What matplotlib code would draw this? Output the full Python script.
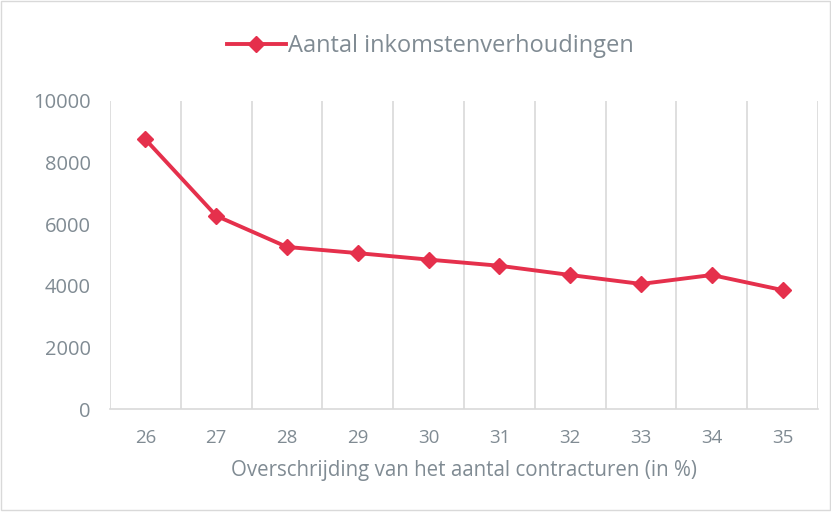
import matplotlib
matplotlib.use("Agg")
import matplotlib.pyplot as plt
from matplotlib.patches import Rectangle

categories = ["26", "27", "28", "29", "30", "31", "32", "33", "34", "35"]
values = [8750, 6270, 5260, 5060, 4850, 4650, 4350, 4060, 4350, 3860]
series_name = "Aantal inkomstenverhoudingen"
x_label = "Overschrijding van het aantal contracturen (in %)"
y_ticks = [0, 2000, 4000, 6000, 8000, 10000]

plt.rcParams['font.family'] = ['Open Sans', 'DejaVu Sans']
text_color = "#808b93"
line_color = "#e5304c"
grid_color = "#d9d9d9"

fig = plt.figure(figsize=(8.31, 5.12), dpi=100)
ax = fig.add_axes([0.1324, 0.201, 0.852, 0.602])

x = list(range(len(categories)))
ax.plot(x, values, color=line_color, lw=2.8, marker="D", markersize=8,
        label=series_name, solid_joinstyle="round")

ax.set_xlim(-0.5, len(categories) - 0.5)
ax.set_ylim(0, 10000)
ax.set_yticks(y_ticks)
ax.set_yticklabels([str(v) for v in y_ticks])
ax.set_xticks(x)
ax.set_xticklabels(categories)

for b in [i - 0.5 for i in range(len(categories) + 1)]:
    ax.axvline(b, color=grid_color, lw=1.2, zorder=0)

for s in ["top", "right", "left"]:
    ax.spines[s].set_visible(False)
ax.spines["bottom"].set_color(grid_color)
ax.spines["bottom"].set_linewidth(1.2)
ax.tick_params(axis="y", length=0, colors=text_color, labelsize=14.5, pad=14)
ax.tick_params(axis="x", length=0, colors=text_color, labelsize=13.5, pad=14)
ax.set_xlabel(x_label, color=text_color, fontsize=14.8, labelpad=10)

leg = fig.legend(loc="center", bbox_to_anchor=(0.518, 0.91), frameon=False,
                 fontsize=17, handlelength=2.5, handletextpad=0.1)
for t in leg.get_texts():
    t.set_color(text_color)

fig.patches.append(Rectangle((0.001, 0.003), 0.998, 0.996, transform=fig.transFigure,
                             fill=False, edgecolor="#d9d9d9", lw=1))

fig.savefig("out.png", dpi=100)
